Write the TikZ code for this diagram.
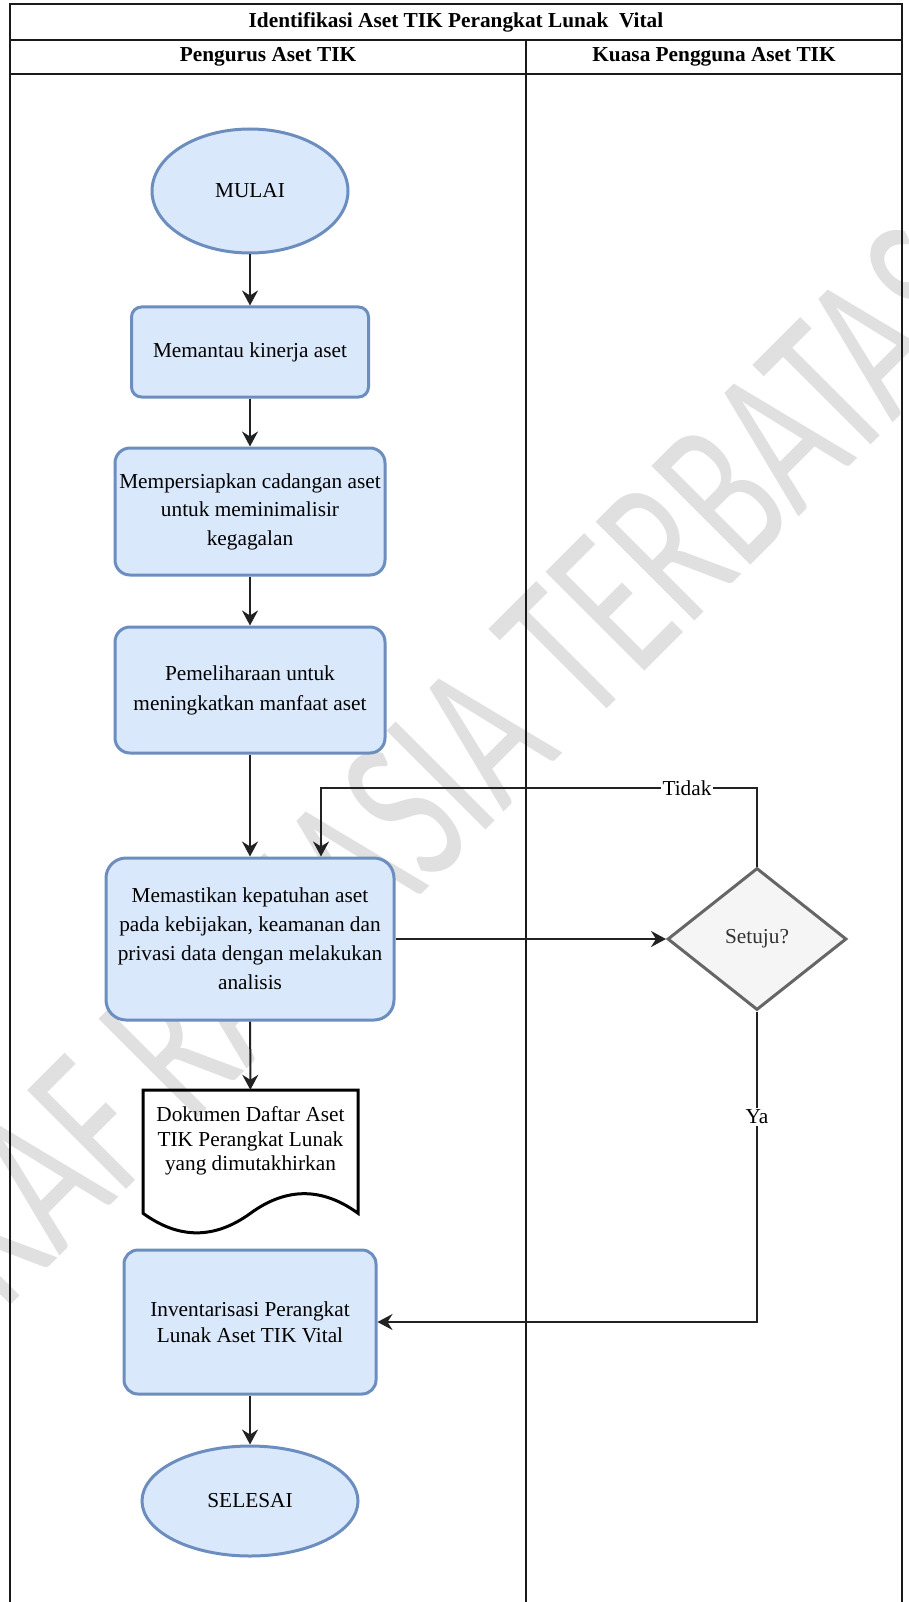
\documentclass[tikz,border=0pt]{standalone}
\usepackage{fontspec}
\setmainfont{Liberation Serif}
\newfontfamily\markfont{Carlito}
\usepackage{graphicx}
\usetikzlibrary{arrows.meta,shapes.geometric}

\definecolor{boxfill}{HTML}{DAE8FC}
\definecolor{boxline}{HTML}{6C8EBF}
\definecolor{decfill}{HTML}{F5F5F5}
\definecolor{decline}{HTML}{666666}
\definecolor{dectext}{HTML}{333333}
\definecolor{frameline}{HTML}{1A1A1A}
\definecolor{markgray}{HTML}{E0E0E0}
\definecolor{linkline}{HTML}{222222}

\begin{document}
\begin{tikzpicture}[x=1pt,y=-1pt,
  txt/.style={font=\fontsize{21.3}{#1}\selectfont},
  txt/.default=28.5,
  proc/.style={draw=boxline, fill=boxfill, line width=3pt, rounded corners=12pt,
    align=center, inner sep=0pt},
  term/.style={ellipse, draw=boxline, fill=boxfill, line width=3pt, inner sep=0pt, txt},
  decision/.style={diamond, draw=decline, fill=decfill, line width=3pt, text=dectext,
    inner sep=0pt, txt},
  frame/.style={draw=frameline, line width=2pt},
  head/.style={font=\bfseries\fontsize{21.3}{25}\selectfont},
  flow/.style={draw=linkline, line width=2pt, -{Stealth[length=15pt,width=16pt,inset=5pt]}},
  lbl/.style={fill=white, inner sep=1.5pt, txt},
]
\useasboundingbox (0,0) rectangle (909,1602);
\clip (0,0) rectangle (909,1602);

% watermark behind everything
\node[rotate=45, anchor=base west, inner sep=0pt, text=markgray,
  font=\markfont\fontsize{218}{218}\selectfont] (mark) at (-60,1376)
  {\scalebox{0.67}[1]{DRAF RAHASIA TERBATAS}};

% swimlane table
\draw[frame] (10,1610) -- (10,4) -- (902,4) -- (902,1610);
\draw[frame] (10,40) -- (902,40);
\draw[frame] (10,74) -- (902,74);
\draw[frame] (526,40) -- (526,1610);
\node[head] (title) at (456,22) {Identifikasi Aset TIK Perangkat Lunak\ \ Vital};
\node[head] (laneA) at (268,57) {Pengurus Aset TIK};
\node[head] (laneB) at (714,57) {Kuasa Pengguna Aset TIK};

% flow nodes
\node[term, minimum width=196pt, minimum height=124pt] (start) at (250,191) {MULAI};
\node[proc, txt, minimum width=237pt, minimum height=90pt, rounded corners=10pt] (s1) at (250,352)
  {Memantau kinerja aset};
\node[proc, txt, minimum width=270pt, minimum height=127pt, rounded corners=15pt] (s2) at (250,511.5)
  {Mempersiapkan cadangan aset\\untuk meminimalisir\\kegagalan};
\node[proc, txt=30, minimum width=270pt, minimum height=126pt, rounded corners=15pt] (s3) at (250,690)
  {Pemeliharaan untuk\\meningkatkan manfaat aset};
\node[proc, txt=29, minimum width=288pt, minimum height=162pt, rounded corners=20pt] (s4) at (250,939)
  {Memastikan kepatuhan aset\\pada kebijakan, keamanan dan\\privasi data dengan melakukan\\analisis};
\node[decision, minimum width=179pt, minimum height=142pt] (dec) at (757,939) {Setuju?};

% document output
\node[minimum width=215pt, minimum height=145pt, inner sep=0pt] (doc) at (250.5,1162.5) {};
\draw[black, line width=3pt, line join=miter]
  (143,1090) -- (358,1090) -- (358,1213.25)
  .. controls (322.2,1187.15) and (286.3,1187.15) .. (250.5,1213.25)
  .. controls (214.67,1239.35) and (178.83,1239.35) .. (143,1213.25) -- cycle;
\node[txt=24.5, align=center, inner sep=0pt] (doctext) at (250.5,1141)
  {Dokumen Daftar Aset\\TIK Perangkat Lunak\\yang dimutakhirkan};

\node[proc, txt=26, minimum width=252pt, minimum height=144pt, rounded corners=14pt] (s5) at (250,1322)
  {Inventarisasi Perangkat\\Lunak Aset TIK Vital};
\node[term, minimum width=216pt, minimum height=110pt] (stop) at (250,1501) {SELESAI};

% connectors
\draw[flow] (start) -- (s1);
\draw[flow] (s1) -- (s2);
\draw[flow] (s2) -- (s3);
\draw[flow] (s3) -- (s4);
\draw[flow] (s4) -- (dec);
\draw[flow] (s4) -- (doc);
\draw[flow] (s5) -- (stop);

\coordinate (back) at (321,788);
\draw[flow] (dec.north) |- (back) -- (back |- s4.north);
\node[lbl] (no) at (687,788) {Tidak};

\draw[flow] (dec.south) |- (s5.east);
\node[lbl] (yes) at (757,1117) {Ya};
\end{tikzpicture}
\end{document}
